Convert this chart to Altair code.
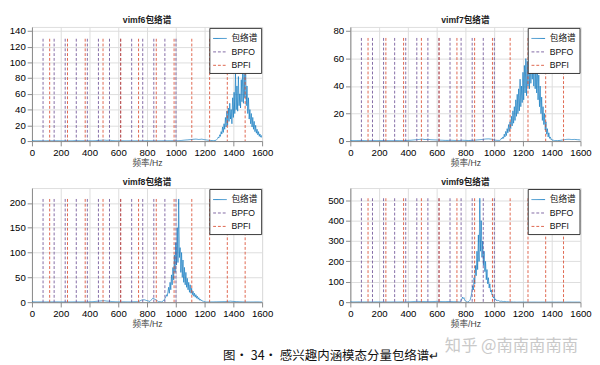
import altair as alt
import pandas as pd

# ---------------- data ----------------
X_TICKS = [0, 200, 400, 600, 800, 1000, 1200, 1400, 1600]
LEGEND_ITEMS = ["包络谱", "BPFO", "BPFI"]
LEGEND_COLORS = ["#0072BD", "#6a4c93", "#d9482b"]

BPFO = [77, 154, 231, 308, 385, 462, 539, 616, 693, 770, 847, 924, 1001]
BPFI = [123, 247, 370, 494, 617, 741, 864, 988, 1111, 1235, 1358, 1482]

TITLES = ["vimf6包络谱", "vimf7包络谱", "vimf8包络谱", "vimf9包络谱"]
Y_MAX = [145, 83, 230, 560]
Y_TICKS = [
    [0, 20, 40, 60, 80, 100, 120, 140],
    [0, 20, 40, 60, 80],
    [0, 50, 100, 150, 200],
    [0, 100, 200, 300, 400, 500],
]
RULE_TOP = [130, 75, 208, 510]

# vimf6 envelope spectrum
f6_freq = list(range(0, 1261, 20)) + list(range(1280, 1601, 5))
f6_amp = [
    0.5, 0.3, 0.3, 0.4, 0.3, 0.3, 0.4, 0.3, 0.3, 0.4,
    0.3, 0.3, 0.4, 0.3, 0.3, 0.5, 0.4, 0.3, 0.4, 0.3,
    0.4, 0.3, 0.4, 0.8, 1.0, 1.2, 0.9, 1.1, 0.6, 0.4,
    0.3, 0.4, 0.3, 0.3, 0.4, 0.3, 0.3, 0.4, 0.3, 0.3,
    0.4, 0.3, 0.3, 0.4, 0.3, 0.3, 0.4, 0.3, 0.3, 0.4,
    0.3, 0.5, 0.8, 1.2, 1.5, 1.8, 2.2, 2.5, 2.0, 2.4,
    1.8, 1.2, 0.8, 0.5,
    1, 2, 3, 5, 4, 8, 6, 12, 9, 18,
    11, 22, 15, 30, 18, 38, 20, 42, 25, 48,
    28, 40, 22, 55, 30, 62, 35, 86, 40, 70,
    38, 82, 45, 60, 42, 78, 50, 90, 48, 85,
    55, 100, 45, 70, 35, 55, 28, 40, 22, 35,
    18, 30, 15, 25, 12, 20, 10, 15, 8, 12,
    6, 9, 5, 7, 4,
]

# vimf7 envelope spectrum
f7_freq = list(range(0, 1021, 20)) + list(range(1040, 1421, 5)) + list(range(1440, 1601, 20))
f7_amp = [
    0.4, 0.3, 0.3, 0.3, 0.4, 0.3, 0.3, 0.3, 0.4, 0.3,
    0.3, 0.3, 0.4, 0.3, 0.3, 0.3, 0.4, 0.3, 0.3, 0.4,
    0.5, 0.6, 0.8, 1.0, 1.2, 1.4, 1.1, 1.3, 1.0, 0.9,
    0.8, 0.7, 0.6, 0.5, 0.5, 0.6, 0.5, 0.4, 0.4, 0.6,
    0.5, 0.4, 0.5, 0.6, 0.8, 1.0, 1.2, 1.5, 1.6, 1.4,
    0.8, 0.5,
    0.5, 1, 2, 1.5, 3, 2, 5, 3, 7, 4,
    9, 6, 12, 7, 14, 9, 18, 11, 22, 13,
    25, 15, 30, 18, 34, 20, 38, 22, 45, 25,
    40, 28, 50, 30, 55, 35, 60, 33, 58, 40,
    65, 38, 70, 42, 75, 45, 72, 40, 68, 38,
    60, 35, 55, 30, 48, 25, 40, 20, 32, 15,
    25, 12, 20, 8, 14, 5, 9, 3, 6, 2,
    3, 1, 1.5, 0.5, 0.8, 0.3, 0.3,
    0.3, 0.5, 0.9, 1.2, 1.3, 1.1, 1.2, 1.0, 0.8,
]

# vimf8 envelope spectrum
f8_freq = list(range(0, 881, 20)) + list(range(900, 1221, 5)) + list(range(1240, 1601, 20))
f8_amp = [
    0.8, 0.5, 0.5, 0.6, 0.5, 0.5, 0.6, 0.5, 0.5, 0.6,
    0.5, 0.5, 0.6, 0.5, 0.5, 0.6, 0.5, 0.5, 0.6, 0.5,
    0.8, 1.0, 1.5, 2.0, 2.5, 3.0, 2.2, 1.8, 1.2, 0.8,
    0.6, 0.5, 0.6, 0.5, 0.5, 0.8, 1.0, 0.8, 4.0, 5.0,
    3.0, 1.5, 8.0, 5.0, 1.0,
    0.5, 1, 2, 4, 3, 8, 10, 15, 12, 20,
    30, 18, 40, 25, 55, 35, 70, 45, 95, 60,
    120, 75, 150, 80, 208, 90, 110, 60, 100, 50,
    85, 40, 70, 35, 60, 30, 48, 25, 40, 20,
    35, 18, 28, 15, 22, 12, 18, 10, 15, 8,
    12, 6, 9, 4, 6, 3, 4, 2, 2.5, 1,
    1, 0.5, 0.5, 0.3, 0.3,
    0.5, 0.5, 0.6, 0.8, 1.0, 1.2, 1.5, 2.0, 1.5, 1.0,
    0.8, 0.6, 0.5, 0.5, 0.4, 0.4, 0.5, 0.4, 0.3,
]

# vimf9 envelope spectrum
f9_freq = list(range(0, 741, 20)) + list(range(760, 1161, 5)) + list(range(1180, 1601, 20))
f9_amp = [
    1.5, 1.0, 1.0, 1.2, 1.0, 1.0, 1.2, 1.0, 1.0, 1.2,
    1.0, 1.0, 1.2, 1.0, 1.0, 1.2, 1.0, 1.0, 1.5, 1.2,
    1.5, 2.0, 3.0, 4.0, 3.5, 3.0, 2.5, 2.0, 2.5, 3.0,
    4.0, 3.5, 3.0, 2.5, 3.0, 2.5, 2.0, 2.5,
    1, 3, 8, 15, 25, 18, 22, 10, 6, 3,
    2, 1, 2, 4, 8, 15, 30, 50, 80, 60,
    120, 90, 180, 130, 250, 160, 330, 200, 510, 250,
    400, 220, 300, 180, 250, 150, 200, 110, 160, 90,
    120, 70, 90, 50, 60, 35, 40, 20, 25, 12,
    15, 8, 10, 6, 8, 5, 6, 4, 5, 3,
    4, 3, 4, 2, 3, 2, 3, 2, 2, 1.5,
    2, 1, 1.5, 1, 1, 0.5, 0.8, 0.5, 0.5, 0.3,
    0.3,
    0.5, 0.4, 0.5, 0.4, 0.3, 0.4, 0.3, 0.3, 0.4, 0.3,
    0.3, 0.4, 0.3, 0.3, 0.4, 0.3, 0.3, 0.4, 0.3, 0.3,
    0.4, 0.3,
]

SPECTRA = [(f6_freq, f6_amp), (f7_freq, f7_amp), (f8_freq, f8_amp), (f9_freq, f9_amp)]
for fq, am in SPECTRA:
    assert len(fq) == len(am), (len(fq), len(am))

CAPTION = "图· 34· 感兴趣内涵模态分量包络谱↵"
WATERMARK = "知乎 @南南南南南"

FONT = "Liberation Sans, Noto Sans CJK SC, sans-serif"
PANEL_W = 240
PANEL_H = 119


def panel(i):
    fq, am = SPECTRA[i]
    spec = pd.DataFrame({"freq": fq, "amp": am, "series": "包络谱"})
    rules = pd.DataFrame({
        "freq": BPFO + BPFI,
        "series": ["BPFO"] * len(BPFO) + ["BPFI"] * len(BPFI),
        "top": RULE_TOP[i],
    })
    legend = alt.Legend(
        title=None, orient="top-right", offset=1, symbolType="stroke",
        symbolSize=200, symbolStrokeWidth=1, labelFontSize=9, labelFont=FONT,
        labelColor="#111", rowPadding=1, padding=3, strokeColor="#333",
        fillColor="white", cornerRadius=0, labelOffset=4,
    )
    color = alt.Color("series:N", scale=alt.Scale(domain=LEGEND_ITEMS, range=LEGEND_COLORS),
                      legend=legend)
    dash = alt.StrokeDash("series:N",
                          scale=alt.Scale(domain=LEGEND_ITEMS, range=[[1, 0], [3, 2], [3, 2]]),
                          legend=legend)
    x = alt.X("freq:Q", scale=alt.Scale(domain=[0, 1600], nice=False, zero=False),
              axis=alt.Axis(values=X_TICKS, title="频率/Hz", format="d", labelOverlap=False,
                            labelFlush=False, labelPadding=2, titlePadding=1, minExtent=0,
                            titleFontSize=9, titleFontWeight="normal", titleFont=FONT,
                            titleColor="#444"))
    yscale = alt.Scale(domain=[0, Y_MAX[i]], nice=False)
    yaxis = alt.Axis(values=Y_TICKS[i], title=None, format="d", labelOverlap=False,
                     labelFlush=False, minExtent=15)
    line = alt.Chart(spec).mark_line(strokeWidth=0.7, clip=True).encode(
        x=x, y=alt.Y("amp:Q", scale=yscale, axis=yaxis), color=color, strokeDash=dash)
    rule = alt.Chart(rules).mark_rule(strokeWidth=1, opacity=0.85).encode(
        x=x, y=alt.Y("top:Q", scale=yscale, axis=yaxis), y2=alt.datum(0),
        color=color, strokeDash=dash)
    return alt.layer(line, rule).properties(
        width=PANEL_W, height=PANEL_H,
        title=alt.TitleParams(TITLES[i], fontSize=9, fontWeight="bold", font=FONT,
                              color="#222", offset=1, anchor="middle", frame="group"),
    )


grid = alt.concat(*[panel(i) for i in range(4)], columns=2, spacing={"column": 55, "row": 10}) \
    .resolve_scale(color="independent", strokeDash="independent", x="independent", y="independent") \
    .resolve_legend(color="independent", strokeDash="independent")

foot_df = pd.DataFrame({"t": [CAPTION], "w": [WATERMARK]})
caption = alt.Chart(foot_df).mark_text(fontSize=13, font="Noto Sans CJK SC", color="#111",
                                       align="center", baseline="middle").encode(
    text="t:N", x=alt.value(312), y=alt.value(27))
water = alt.Chart(foot_df).mark_text(fontSize=17, font="Noto Sans CJK SC", color="#c9c9c9",
                                     align="center", baseline="middle").encode(
    text="w:N", x=alt.value(500), y=alt.value(17))
footer = alt.layer(water, caption).properties(
    width=570, height=30, view=alt.ViewBackground(stroke="transparent"))

chart = alt.vconcat(grid, footer, spacing=0).properties(
    padding={"left": 0, "top": 0, "right": 0, "bottom": 0}
).configure_view(stroke="#555", strokeWidth=0.8).configure_axis(
    labelFont=FONT, labelFontSize=9, labelColor="#262626", titleFont=FONT,
    titleFontSize=9, titleFontWeight="normal", titleColor="#333", ticks=False,
    labelPadding=3, titlePadding=2, grid=False, domain=False, minExtent=0,
).configure(background="white")

chart.save("out.html", embed_options={"renderer": "svg", "actions": False})
